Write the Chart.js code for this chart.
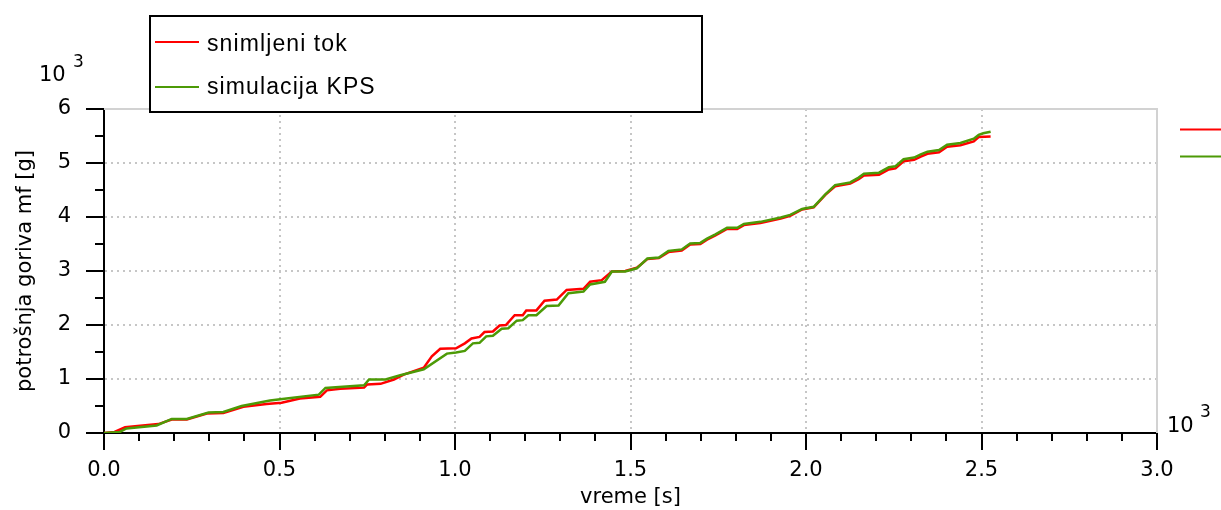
<!DOCTYPE html>
<html>
<head>
<meta charset="utf-8">
<script src="https://cdn.jsdelivr.net/npm/chart.js@4.4.1/dist/chart.umd.min.js"></script>
<style>
  html, body { margin: 0; padding: 0; background: #fff; }
</style>
</head>
<body>
<canvas id="chart" width="1221" height="510"></canvas>
<script>
const seriesNames = ['snimljeni tok', 'simulacija KPS']
const seriesColors = ['#ff0000', '#4c9a06']

// vreme [s] x 10^3, potrosnja [g] x 10^3
const recordedTime = [0, 0.03, 0.06, 0.103, 0.155, 0.193, 0.236, 0.293, 0.34, 0.397, 0.463, 0.506, 0.558, 0.616, 0.635, 0.673,
  0.741, 0.75, 0.788, 0.826, 0.854, 0.911, 0.934, 0.958, 1.003, 1.028, 1.047, 1.07, 1.084, 1.108, 1.127, 1.145, 1.17,
  1.193, 1.203, 1.232, 1.255, 1.29, 1.318, 1.366, 1.385, 1.418, 1.447, 1.485, 1.518, 1.548, 1.581, 1.608, 1.646, 1.67,
  1.699, 1.718, 1.742, 1.775, 1.804, 1.823, 1.87, 1.928, 1.955, 1.989, 2.022, 2.055, 2.083, 2.126, 2.15, 2.165, 2.208,
  2.236, 2.255, 2.278, 2.308, 2.327, 2.346, 2.379, 2.402, 2.44, 2.478, 2.492, 2.526]
const recordedFuel = [0, 0.02, 0.105, 0.135, 0.165, 0.25, 0.25, 0.36, 0.37, 0.485, 0.535, 0.56, 0.64, 0.67, 0.79, 0.82,
  0.84, 0.9, 0.91, 0.99, 1.08, 1.21, 1.42, 1.56, 1.57, 1.66, 1.75, 1.78, 1.87, 1.88, 1.99, 2.0, 2.18,
  2.18, 2.27, 2.27, 2.45, 2.47, 2.65, 2.67, 2.8, 2.83, 2.99, 3.0, 3.06, 3.22, 3.24, 3.35, 3.38, 3.49,
  3.5, 3.58, 3.66, 3.78, 3.78, 3.85, 3.89, 3.97, 4.02, 4.14, 4.18, 4.41, 4.57, 4.62, 4.7, 4.77, 4.78,
  4.88, 4.9, 5.03, 5.06, 5.12, 5.17, 5.2, 5.3, 5.33, 5.4, 5.48, 5.49]

const simTime = [0, 0.045, 0.064, 0.15, 0.193, 0.236, 0.298, 0.34, 0.392, 0.473, 0.52, 0.612, 0.631, 0.741, 0.755, 0.802,
  0.844, 0.911, 0.977, 1.003, 1.028, 1.051, 1.07, 1.089, 1.108, 1.133, 1.152, 1.176, 1.193, 1.209, 1.232, 1.261, 1.295,
  1.323, 1.366, 1.385, 1.427, 1.447, 1.485, 1.518, 1.548, 1.581, 1.608, 1.646, 1.67, 1.699, 1.718, 1.742, 1.775, 1.804,
  1.823, 1.87, 1.928, 1.955, 1.989, 2.022, 2.055, 2.083, 2.126, 2.15, 2.165, 2.208, 2.236, 2.255, 2.278, 2.308, 2.327,
  2.346, 2.379, 2.402, 2.44, 2.478, 2.492, 2.505, 2.526]
const simFuel = [0, 0.02, 0.085, 0.14, 0.26, 0.26, 0.38, 0.39, 0.5, 0.6, 0.64, 0.71, 0.835, 0.885, 0.99, 0.99,
  1.07, 1.18, 1.47, 1.49, 1.52, 1.66, 1.67, 1.79, 1.8, 1.93, 1.94, 2.08, 2.09, 2.18, 2.18, 2.35, 2.36,
  2.59, 2.62, 2.75, 2.8, 2.99, 2.99, 3.05, 3.23, 3.25, 3.37, 3.4, 3.51, 3.52, 3.6, 3.68, 3.8, 3.8,
  3.87, 3.91, 3.99, 4.04, 4.15, 4.19, 4.42, 4.59, 4.64, 4.73, 4.8, 4.82, 4.92, 4.94, 5.07, 5.1, 5.16,
  5.21, 5.24, 5.34, 5.37, 5.45, 5.52, 5.55, 5.58]

const xMin = 0, xMax = 3, xStep = 0.5, xMinor = 0.1
const yMin = 0, yMax = 6, yStep = 1, yMinor = 0.5
const exponentBase = '10'
const exponentPower = '3'

const axisFont = { family: 'DejaVu Sans', size: 21 }

const toPoints = (xs, ys) => xs.map((x, i) => ({ x: x, y: ys[i] }))

// tick marks, frame, legend and exponent labels
const decor = {
  id: 'decor',
  beforeDatasetsDraw(chart) {
    const { ctx, chartArea: a } = chart
    ctx.save()
    ctx.strokeStyle = '#d2d2d2'
    ctx.lineWidth = 2
    ctx.beginPath()
    ctx.moveTo(a.left, a.top)
    ctx.lineTo(a.right, a.top)
    ctx.lineTo(a.right, a.bottom)
    ctx.stroke()
    ctx.restore()
  },
  afterDraw(chart) {
    const { ctx, chartArea: a, scales } = chart
    const sx = scales.x, sy = scales.y
    ctx.save()
    ctx.strokeStyle = '#000'
    ctx.lineWidth = 2
    ctx.beginPath()
    for (let i = 0; i <= Math.round((xMax - xMin) / xMinor); i++) {
      const v = xMin + i * xMinor
      const px = Math.round(sx.getPixelForValue(v))
      const major = i % Math.round(xStep / xMinor) === 0
      ctx.moveTo(px, a.bottom)
      ctx.lineTo(px, a.bottom + (major ? 17 : 8))
    }
    for (let i = 0; i <= Math.round((yMax - yMin) / yMinor); i++) {
      const v = yMin + i * yMinor
      const py = Math.round(sy.getPixelForValue(v))
      const major = i % Math.round(yStep / yMinor) === 0
      ctx.moveTo(a.left - (major ? 18 : 9), py)
      ctx.lineTo(a.left, py)
    }
    ctx.stroke()

    // legend box
    ctx.fillStyle = '#fff'
    ctx.fillRect(150, 16, 552, 96)
    ctx.strokeRect(150, 16, 552, 96)
    ctx.font = '23px "Liberation Sans", Arial, sans-serif'
    ctx.letterSpacing = '1.1px'
    ctx.textBaseline = 'alphabetic'
    ctx.textAlign = 'left'
    const rows = [42, 87]
    const bases = [50.5, 94]
    chart.data.datasets.forEach((ds, i) => {
      ctx.strokeStyle = ds.borderColor
      ctx.beginPath()
      ctx.moveTo(155, rows[i])
      ctx.lineTo(199, rows[i])
      ctx.stroke()
      ctx.fillStyle = '#000'
      ctx.fillText(ds.label, 207, bases[i])
      // cut-off legend markers on the right
      ctx.beginPath()
      ctx.moveTo(1180, i === 0 ? 129.5 : 156.5)
      ctx.lineTo(1221, i === 0 ? 129.5 : 156.5)
      ctx.stroke()
    })
    ctx.letterSpacing = '0px'

    // exponent labels
    ctx.fillStyle = '#000'
    ctx.textBaseline = 'middle'
    ctx.font = '21px "DejaVu Sans"'
    ctx.fillText(exponentBase, 39, 76)
    ctx.fillText(exponentBase, 1167, 427)
    ctx.font = '17px "DejaVu Sans"'
    ctx.fillText(exponentPower, 73, 63)
    ctx.fillText(exponentPower, 1200, 413)
    ctx.restore()
  }
}

const edgeless = (lo, hi) => (c) => (c.tick && (c.tick.value === lo || c.tick.value === hi)) ? 'rgba(0,0,0,0)' : '#c6c6c6'

new Chart(document.getElementById('chart'), {
  type: 'line',
  data: {
    datasets: [{
      label: seriesNames[0],
      data: toPoints(recordedTime, recordedFuel),
      borderColor: seriesColors[0],
      order: 1
    }, {
      label: seriesNames[1],
      data: toPoints(simTime, simFuel),
      borderColor: seriesColors[1],
      order: 0
    }]
  },
  options: {
    responsive: false,
    devicePixelRatio: 1,
    animation: false,
    layout: { padding: { left: 0, top: 109, right: 64, bottom: 0 } },
    elements: {
      line: { borderWidth: 2.5, tension: 0, fill: false },
      point: { radius: 0 }
    },
    plugins: {
      legend: { display: false },
      tooltip: { enabled: false }
    },
    scales: {
      x: {
        type: 'linear',
        min: xMin,
        max: xMax,
        afterFit: (s) => { s.height = 77 },
        ticks: {
          stepSize: xStep,
          autoSkip: false,
          maxRotation: 0,
          padding: 25,
          color: '#000',
          font: axisFont,
          callback: (v) => v.toFixed(1)
        },
        grid: { drawTicks: false, lineWidth: 2, color: edgeless(xMin, xMax) },
        border: { color: '#000', width: 2, dash: [2, 4] },
        title: { display: true, text: 'vreme [s]', color: '#000', font: axisFont, padding: { top: 0, bottom: 0 } }
      },
      y: {
        type: 'linear',
        min: yMin,
        max: yMax,
        afterFit: (s) => { s.width = 104 },
        ticks: {
          stepSize: yStep,
          padding: 33,
          color: '#000',
          font: axisFont,
          callback: (v) => String(v)
        },
        grid: { drawTicks: false, lineWidth: 2, color: edgeless(yMin, yMax) },
        border: { color: '#000', width: 2, dash: [2, 4] },
        title: { display: true, text: 'potrošnja goriva mf [g]', color: '#000', font: axisFont, padding: { top: 13, bottom: 0 } }
      }
    }
  },
  plugins: [decor]
})
</script>
</body>
</html>
